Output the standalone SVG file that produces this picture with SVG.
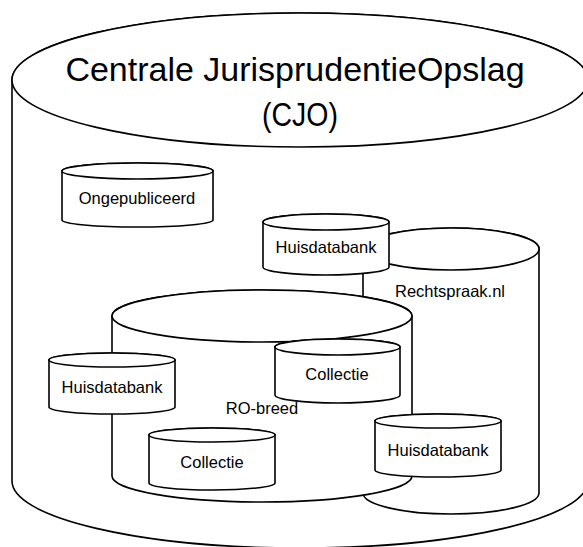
<svg xmlns="http://www.w3.org/2000/svg" width="583" height="547" viewBox="0 0 583 547">
  <style>
    .body { fill: #ffffff; stroke: #000000; stroke-width: 1.6; stroke-linejoin: round; }
    .top { fill: #ffffff; stroke: #000000; stroke-width: 1.6; }
    .lbl { font-family: "Liberation Sans", Arial, sans-serif; font-size: 16.5px; fill: #000000; text-anchor: middle; }
    .title { font-family: "Liberation Sans", Arial, sans-serif; font-size: 34px; fill: #000000; text-anchor: middle; }
  </style>
  <rect x="0" y="0" width="583" height="547" fill="#ffffff"/>

  <g id="cjo">
    <path class="body" d="M12 80 L12 481 A288 67 0 0 0 588 481 L588 80 A288 67 0 0 0 12 80 Z"/>
    <ellipse class="top" cx="300" cy="80" rx="288" ry="67"/>
    <text class="title" x="295" y="81">Centrale JurisprudentieOpslag</text>
    <text class="title" x="300" y="126" textLength="76" lengthAdjust="spacingAndGlyphs">(CJO)</text>
  </g>

  <g id="rechtspraak">
    <path class="body" d="M363 249 L363 493 A88 21 0 0 0 539 493 L539 249 A88 21 0 0 0 363 249 Z"/>
    <ellipse class="top" cx="451" cy="249" rx="88" ry="21"/>
    <text class="lbl" x="450" y="297">Rechtspraak.nl</text>
  </g>

  <g id="ro-breed">
    <path class="body" d="M112 316 L112 476 A150 26 0 0 0 412 476 L412 316 A150 26 0 0 0 112 316 Z"/>
    <ellipse class="top" cx="262" cy="316" rx="150" ry="26"/>
    <text class="lbl" x="262" y="414">RO-breed</text>
  </g>

  <g id="huisdatabank-top">
    <path class="body" d="M263 222 L263 267 A63 8 0 0 0 389 267 L389 222 A63 8 0 0 0 263 222 Z"/>
    <ellipse class="top" cx="326" cy="222" rx="63" ry="8"/>
    <text class="lbl" x="326" y="253">Huisdatabank</text>
  </g>

  <g id="ongepubliceerd">
    <path class="body" d="M62 171 L62 220 A75.5 7 0 0 0 213 220 L213 171 A75.5 8 0 0 0 62 171 Z"/>
    <ellipse class="top" cx="137.5" cy="171" rx="75.5" ry="8"/>
    <text class="lbl" x="137" y="204">Ongepubliceerd</text>
  </g>

  <g id="huisdatabank-left">
    <path class="body" d="M49 360 L49 407 A63 7 0 0 0 175 407 L175 360 A63 7 0 0 0 49 360 Z"/>
    <ellipse class="top" cx="112" cy="360" rx="63" ry="7"/>
    <text class="lbl" x="112" y="393">Huisdatabank</text>
  </g>

  <g id="collectie-upper">
    <path class="body" d="M275 347 L275 395 A62.5 8 0 0 0 400 395 L400 347 A62.5 8 0 0 0 275 347 Z"/>
    <ellipse class="top" cx="337.5" cy="347" rx="62.5" ry="8"/>
    <text class="lbl" x="337" y="380">Collectie</text>
  </g>

  <g id="collectie-lower">
    <path class="body" d="M149 435 L149 483 A63 7 0 0 0 275 483 L275 435 A63 7 0 0 0 149 435 Z"/>
    <ellipse class="top" cx="212" cy="435" rx="63" ry="7"/>
    <text class="lbl" x="212" y="468">Collectie</text>
  </g>

  <g id="huisdatabank-right">
    <path class="body" d="M375 421 L375 470 A63 7 0 0 0 501 470 L501 421 A63 7 0 0 0 375 421 Z"/>
    <ellipse class="top" cx="438" cy="421" rx="63" ry="7"/>
    <text class="lbl" x="438" y="456">Huisdatabank</text>
  </g>

  <g id="connectors"></g>
</svg>
